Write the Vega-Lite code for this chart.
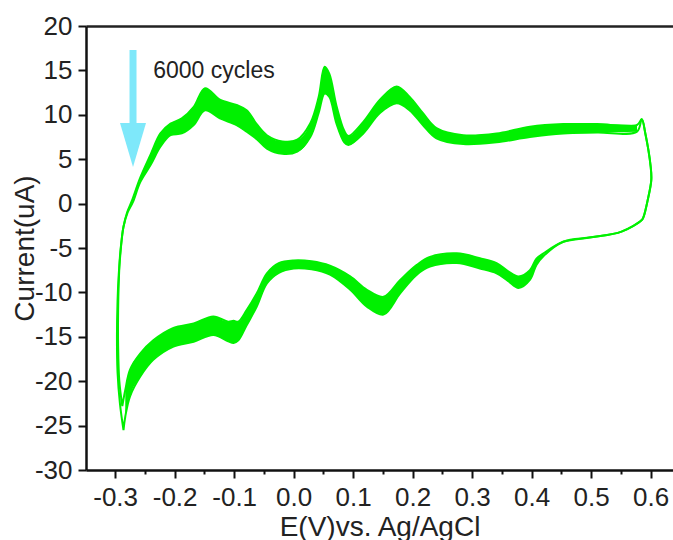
{
  "$schema": "https://vega.github.io/schema/vega-lite/v6.json",
  "width": 587,
  "height": 444,
  "autosize": {"type": "none"},
  "padding": {"left": 86, "top": 26, "right": 0, "bottom": 70},
  "background": "white",
  "config": {
    "view": {"stroke": null},
    "font": "Liberation Sans"
  },
  "resolve": {"axis": {"x": "independent"}},
  "datasets": {
    "band": [
      {"b":"a","E":-0.258,"t":2.9,"u":2.4},
      {"b":"a","E":-0.240,"t":5.6,"u":4.4},
      {"b":"a","E":-0.224,"t":7.9,"u":6.4},
      {"b":"a","E":-0.207,"t":9.0,"u":7.7},
      {"b":"a","E":-0.188,"t":9.6,"u":7.9},
      {"b":"a","E":-0.168,"t":10.9,"u":8.85},
      {"b":"a","E":-0.149,"t":13.0,"u":10.5},
      {"b":"a","E":-0.124,"t":11.7,"u":9.6},
      {"b":"a","E":-0.096,"t":11.1,"u":8.85},
      {"b":"a","E":-0.079,"t":10.5,"u":8.1},
      {"b":"a","E":-0.061,"t":8.85,"u":7.2},
      {"b":"a","E":-0.045,"t":7.7,"u":6.2},
      {"b":"a","E":-0.019,"t":7.0,"u":5.6},
      {"b":"a","E":0.006,"t":7.2,"u":5.85},
      {"b":"a","E":0.028,"t":9.05,"u":7.5},
      {"b":"a","E":0.042,"t":12.0,"u":10.2},
      {"b":"a","E":0.052,"t":15.4,"u":12.4},
      {"b":"a","E":0.060,"t":14.6,"u":12.0},
      {"b":"a","E":0.072,"t":11.0,"u":9.0},
      {"b":"a","E":0.085,"t":8.2,"u":6.9},
      {"b":"a","E":0.092,"t":7.6,"u":6.6},
      {"b":"a","E":0.117,"t":9.2,"u":7.9},
      {"b":"a","E":0.145,"t":11.7,"u":10.2},
      {"b":"a","E":0.173,"t":13.2,"u":11.3},
      {"b":"a","E":0.195,"t":12.0,"u":10.5},
      {"b":"a","E":0.217,"t":10.2,"u":8.85},
      {"b":"a","E":0.240,"t":8.5,"u":7.35},
      {"b":"a","E":0.285,"t":7.7,"u":6.7},
      {"b":"a","E":0.341,"t":7.9,"u":6.9},
      {"b":"a","E":0.397,"t":8.65,"u":7.5},
      {"b":"a","E":0.453,"t":8.95,"u":7.9},
      {"b":"a","E":0.510,"t":8.95,"u":8.0},
      {"b":"a","E":0.577,"t":8.85,"u":8.1},
      {"b":"c","E":0.420,"t":-5.6,"u":-5.9},
      {"b":"c","E":0.408,"t":-6.2,"u":-6.9},
      {"b":"c","E":0.397,"t":-7.5,"u":-8.6},
      {"b":"c","E":0.378,"t":-8.2,"u":-9.5},
      {"b":"c","E":0.360,"t":-7.6,"u":-8.7},
      {"b":"c","E":0.341,"t":-6.7,"u":-7.85},
      {"b":"c","E":0.313,"t":-6.15,"u":-7.3},
      {"b":"c","E":0.274,"t":-5.6,"u":-6.7},
      {"b":"c","E":0.229,"t":-6.0,"u":-7.1},
      {"b":"c","E":0.207,"t":-6.9,"u":-8.0},
      {"b":"c","E":0.179,"t":-8.6,"u":-10.1},
      {"b":"c","E":0.151,"t":-10.5,"u":-12.5},
      {"b":"c","E":0.123,"t":-9.7,"u":-11.6},
      {"b":"c","E":0.095,"t":-8.2,"u":-9.7},
      {"b":"c","E":0.061,"t":-7.0,"u":-8.0},
      {"b":"c","E":0.030,"t":-6.5,"u":-7.4},
      {"b":"c","E":0.000,"t":-6.4,"u":-7.3},
      {"b":"c","E":-0.025,"t":-6.7,"u":-7.8},
      {"b":"c","E":-0.045,"t":-7.85,"u":-9.0},
      {"b":"c","E":-0.062,"t":-10.1,"u":-11.6},
      {"b":"c","E":-0.079,"t":-12.0,"u":-13.7},
      {"b":"c","E":-0.093,"t":-13.3,"u":-15.4},
      {"b":"c","E":-0.101,"t":-13.2,"u":-15.7},
      {"b":"c","E":-0.110,"t":-13.3,"u":-15.5},
      {"b":"c","E":-0.135,"t":-12.7,"u":-14.8},
      {"b":"c","E":-0.168,"t":-13.5,"u":-15.55},
      {"b":"c","E":-0.202,"t":-14.0,"u":-16.1},
      {"b":"c","E":-0.236,"t":-15.4,"u":-17.6},
      {"b":"c","E":-0.258,"t":-16.9,"u":-19.5},
      {"b":"c","E":-0.275,"t":-18.7,"u":-21.7},
      {"b":"c","E":-0.283,"t":-21.0,"u":-24.0}
    ],
    "loop": [
      {"c":"h","i":1,"E":-0.286,"I":-25.5},
      {"c":"h","i":2,"E":-0.292,"I":-22.5},
      {"c":"h","i":3,"E":-0.296,"I":-19},
      {"c":"h","i":4,"E":-0.297,"I":-15},
      {"c":"h","i":5,"E":-0.296,"I":-11},
      {"c":"h","i":6,"E":-0.294,"I":-8},
      {"c":"h","i":7,"E":-0.291,"I":-5.5},
      {"c":"h","i":8,"E":-0.288,"I":-3.5},
      {"c":"h","i":9,"E":-0.286,"I":-2.6},
      {"c":"h","i":10,"E":-0.280,"I":-1.0},
      {"c":"h","i":11,"E":-0.272,"I":0.3},
      {"c":"h","i":12,"E":-0.258,"I":2.9},
      {"c":"h","i":13,"E":-0.240,"I":5.6},
      {"c":"h","i":14,"E":-0.224,"I":7.9},
      {"c":"h","i":15,"E":-0.207,"I":9.0},
      {"c":"h","i":16,"E":-0.188,"I":9.6},
      {"c":"h","i":17,"E":-0.168,"I":10.9},
      {"c":"h","i":18,"E":-0.149,"I":13.0},
      {"c":"h","i":19,"E":-0.124,"I":11.7},
      {"c":"h","i":20,"E":-0.096,"I":11.1},
      {"c":"h","i":21,"E":-0.079,"I":10.5},
      {"c":"h","i":22,"E":-0.061,"I":8.85},
      {"c":"h","i":23,"E":-0.045,"I":7.7},
      {"c":"h","i":24,"E":-0.019,"I":7.0},
      {"c":"h","i":25,"E":0.006,"I":7.2},
      {"c":"h","i":26,"E":0.028,"I":9.05},
      {"c":"h","i":27,"E":0.042,"I":12.0},
      {"c":"h","i":28,"E":0.052,"I":15.4},
      {"c":"h","i":29,"E":0.060,"I":14.6},
      {"c":"h","i":30,"E":0.072,"I":11.0},
      {"c":"h","i":31,"E":0.085,"I":8.2},
      {"c":"h","i":32,"E":0.092,"I":7.6},
      {"c":"h","i":33,"E":0.117,"I":9.2},
      {"c":"h","i":34,"E":0.145,"I":11.7},
      {"c":"h","i":35,"E":0.173,"I":13.2},
      {"c":"h","i":36,"E":0.195,"I":12.0},
      {"c":"h","i":37,"E":0.217,"I":10.2},
      {"c":"h","i":38,"E":0.240,"I":8.5},
      {"c":"h","i":39,"E":0.285,"I":7.7},
      {"c":"h","i":40,"E":0.341,"I":7.9},
      {"c":"h","i":41,"E":0.397,"I":8.65},
      {"c":"h","i":42,"E":0.453,"I":8.95},
      {"c":"h","i":43,"E":0.510,"I":8.95},
      {"c":"h","i":44,"E":0.577,"I":8.85},
      {"c":"h","i":45,"E":0.585,"I":9.5},
      {"c":"h","i":46,"E":0.591,"I":7.9},
      {"c":"h","i":47,"E":0.600,"I":4.15},
      {"c":"h","i":48,"E":0.601,"I":2.65},
      {"c":"h","i":49,"E":0.595,"I":0.4},
      {"c":"h","i":50,"E":0.588,"I":-1.5},
      {"c":"h","i":51,"E":0.585,"I":-1.85},
      {"c":"h","i":52,"E":0.551,"I":-3.15},
      {"c":"h","i":53,"E":0.500,"I":-3.8},
      {"c":"h","i":54,"E":0.453,"I":-4.3},
      {"c":"h","i":55,"E":0.420,"I":-5.9},
      {"c":"h","i":56,"E":0.408,"I":-6.9},
      {"c":"h","i":57,"E":0.397,"I":-8.6},
      {"c":"h","i":58,"E":0.378,"I":-9.5},
      {"c":"h","i":59,"E":0.360,"I":-8.7},
      {"c":"h","i":60,"E":0.341,"I":-7.85},
      {"c":"h","i":61,"E":0.313,"I":-7.3},
      {"c":"h","i":62,"E":0.274,"I":-6.7},
      {"c":"h","i":63,"E":0.229,"I":-7.1},
      {"c":"h","i":64,"E":0.207,"I":-8.0},
      {"c":"h","i":65,"E":0.179,"I":-10.1},
      {"c":"h","i":66,"E":0.151,"I":-12.5},
      {"c":"h","i":67,"E":0.123,"I":-11.6},
      {"c":"h","i":68,"E":0.095,"I":-9.7},
      {"c":"h","i":69,"E":0.061,"I":-8.0},
      {"c":"h","i":70,"E":0.030,"I":-7.4},
      {"c":"h","i":71,"E":0.000,"I":-7.3},
      {"c":"h","i":72,"E":-0.025,"I":-7.8},
      {"c":"h","i":73,"E":-0.045,"I":-9.0},
      {"c":"h","i":74,"E":-0.062,"I":-11.6},
      {"c":"h","i":75,"E":-0.079,"I":-13.7},
      {"c":"h","i":76,"E":-0.093,"I":-15.4},
      {"c":"h","i":77,"E":-0.101,"I":-15.7},
      {"c":"h","i":78,"E":-0.110,"I":-15.5},
      {"c":"h","i":79,"E":-0.135,"I":-14.8},
      {"c":"h","i":80,"E":-0.168,"I":-15.55},
      {"c":"h","i":81,"E":-0.202,"I":-16.1},
      {"c":"h","i":82,"E":-0.236,"I":-17.6},
      {"c":"h","i":83,"E":-0.258,"I":-19.5},
      {"c":"h","i":84,"E":-0.275,"I":-21.7},
      {"c":"h","i":85,"E":-0.283,"I":-24.0},
      {"c":"h","i":86,"E":-0.286,"I":-25.5},
      {"c":"l","i":1,"E":-0.288,"I":-22.8},
      {"c":"l","i":2,"E":-0.293,"I":-20},
      {"c":"l","i":3,"E":-0.295,"I":-16},
      {"c":"l","i":4,"E":-0.295,"I":-12},
      {"c":"l","i":5,"E":-0.294,"I":-9},
      {"c":"l","i":6,"E":-0.292,"I":-6},
      {"c":"l","i":7,"E":-0.289,"I":-4},
      {"c":"l","i":8,"E":-0.286,"I":-2.6},
      {"c":"l","i":9,"E":-0.279,"I":-1.0},
      {"c":"l","i":10,"E":-0.270,"I":0.2},
      {"c":"l","i":11,"E":-0.258,"I":2.4},
      {"c":"l","i":12,"E":-0.240,"I":4.4},
      {"c":"l","i":13,"E":-0.224,"I":6.4},
      {"c":"l","i":14,"E":-0.207,"I":7.7},
      {"c":"l","i":15,"E":-0.188,"I":7.9},
      {"c":"l","i":16,"E":-0.168,"I":8.85},
      {"c":"l","i":17,"E":-0.149,"I":10.5},
      {"c":"l","i":18,"E":-0.124,"I":9.6},
      {"c":"l","i":19,"E":-0.096,"I":8.85},
      {"c":"l","i":20,"E":-0.079,"I":8.1},
      {"c":"l","i":21,"E":-0.061,"I":7.2},
      {"c":"l","i":22,"E":-0.045,"I":6.2},
      {"c":"l","i":23,"E":-0.019,"I":5.6},
      {"c":"l","i":24,"E":0.006,"I":5.85},
      {"c":"l","i":25,"E":0.028,"I":7.5},
      {"c":"l","i":26,"E":0.042,"I":10.2},
      {"c":"l","i":27,"E":0.052,"I":12.4},
      {"c":"l","i":28,"E":0.060,"I":12.0},
      {"c":"l","i":29,"E":0.072,"I":9.0},
      {"c":"l","i":30,"E":0.085,"I":6.9},
      {"c":"l","i":31,"E":0.092,"I":6.6},
      {"c":"l","i":32,"E":0.117,"I":7.9},
      {"c":"l","i":33,"E":0.145,"I":10.2},
      {"c":"l","i":34,"E":0.173,"I":11.3},
      {"c":"l","i":35,"E":0.195,"I":10.5},
      {"c":"l","i":36,"E":0.217,"I":8.85},
      {"c":"l","i":37,"E":0.240,"I":7.35},
      {"c":"l","i":38,"E":0.285,"I":6.7},
      {"c":"l","i":39,"E":0.341,"I":6.9},
      {"c":"l","i":40,"E":0.397,"I":7.5},
      {"c":"l","i":41,"E":0.453,"I":7.9},
      {"c":"l","i":42,"E":0.510,"I":8.0},
      {"c":"l","i":43,"E":0.577,"I":8.1},
      {"c":"l","i":44,"E":0.585,"I":9.5},
      {"c":"l","i":45,"E":0.591,"I":7.9},
      {"c":"l","i":46,"E":0.600,"I":4.15},
      {"c":"l","i":47,"E":0.601,"I":2.65},
      {"c":"l","i":48,"E":0.595,"I":0.4},
      {"c":"l","i":49,"E":0.588,"I":-1.5},
      {"c":"l","i":50,"E":0.585,"I":-1.85},
      {"c":"l","i":51,"E":0.551,"I":-3.15},
      {"c":"l","i":52,"E":0.500,"I":-3.8},
      {"c":"l","i":53,"E":0.453,"I":-4.3},
      {"c":"l","i":54,"E":0.420,"I":-5.6},
      {"c":"l","i":55,"E":0.408,"I":-6.2},
      {"c":"l","i":56,"E":0.397,"I":-7.5},
      {"c":"l","i":57,"E":0.378,"I":-8.2},
      {"c":"l","i":58,"E":0.360,"I":-7.6},
      {"c":"l","i":59,"E":0.341,"I":-6.7},
      {"c":"l","i":60,"E":0.313,"I":-6.15},
      {"c":"l","i":61,"E":0.274,"I":-5.6},
      {"c":"l","i":62,"E":0.229,"I":-6.0},
      {"c":"l","i":63,"E":0.207,"I":-6.9},
      {"c":"l","i":64,"E":0.179,"I":-8.6},
      {"c":"l","i":65,"E":0.151,"I":-10.5},
      {"c":"l","i":66,"E":0.123,"I":-9.7},
      {"c":"l","i":67,"E":0.095,"I":-8.2},
      {"c":"l","i":68,"E":0.061,"I":-7.0},
      {"c":"l","i":69,"E":0.030,"I":-6.5},
      {"c":"l","i":70,"E":0.000,"I":-6.4},
      {"c":"l","i":71,"E":-0.025,"I":-6.7},
      {"c":"l","i":72,"E":-0.045,"I":-7.85},
      {"c":"l","i":73,"E":-0.062,"I":-10.1},
      {"c":"l","i":74,"E":-0.079,"I":-12.0},
      {"c":"l","i":75,"E":-0.093,"I":-13.3},
      {"c":"l","i":76,"E":-0.101,"I":-13.2},
      {"c":"l","i":77,"E":-0.110,"I":-13.3},
      {"c":"l","i":78,"E":-0.135,"I":-12.7},
      {"c":"l","i":79,"E":-0.168,"I":-13.5},
      {"c":"l","i":80,"E":-0.202,"I":-14.0},
      {"c":"l","i":81,"E":-0.236,"I":-15.4},
      {"c":"l","i":82,"E":-0.258,"I":-16.9},
      {"c":"l","i":83,"E":-0.275,"I":-18.7},
      {"c":"l","i":84,"E":-0.283,"I":-21.0},
      {"c":"l","i":85,"E":-0.288,"I":-22.8}
    ],
    "arrow": [
      {"E":-0.270,"top":17.3,"bot":8.0}
    ],
    "head": [
      {"E":-0.270,"I":6.6}
    ],
    "note": [
      {"E":-0.236,"I":14.9,"label":"6000 cycles"}
    ]
  },
  "layer": [
    {
      "data": {"name": "band"},
      "mark": {"type": "area", "color": "#00f000", "interpolate": "monotone", "opacity": 1},
      "encoding": {
        "x": {
          "field": "E", "type": "quantitative",
          "scale": {"domain": [-0.349, 0.6375], "nice": false, "zero": false},
          "axis": {
            "orient": "bottom",
            "title": "E(V)vs. Ag/AgCl",
            "values": [-0.3,-0.25,-0.2,-0.15,-0.1,-0.05,0,0.05,0.1,0.15,0.2,0.25,0.3,0.35,0.4,0.45,0.5,0.55,0.6],
            "labelExpr": "abs(datum.value*10 - round(datum.value*10)) < 0.001 ? (datum.value < -0.001 ? '-' : '') + format(abs(datum.value), '.1f') : ''",
            "tickSize": {"condition": {"test": "abs(datum.value*10 - round(datum.value*10)) > 0.001", "value": 4}, "value": 8},
            "tickWidth": 2, "tickColor": "#111",
            "domainColor": "#111", "domainWidth": 2.5,
            "labelFont": "Liberation Sans", "labelFontSize": 26, "labelColor": "#222",
            "labelPadding": 6, "labelOverlap": false, "labelFlush": false, "labelBound": false,
            "titleFont": "Liberation Sans", "titleFontSize": 28, "titleFontWeight": "normal", "titleColor": "#222",
            "titlePadding": 3, "grid": false
          }
        },
        "y": {
          "field": "t", "type": "quantitative",
          "scale": {"domain": [-30, 20], "nice": false, "zero": false},
          "axis": {
            "title": "Current(uA)",
            "values": [-30,-27.5,-25,-22.5,-20,-17.5,-15,-12.5,-10,-7.5,-5,-2.5,0,2.5,5,7.5,10,12.5,15,17.5,20],
            "labelExpr": "abs(datum.value/5 - round(datum.value/5)) < 0.001 ? (datum.value < 0 ? '-' : '') + format(abs(datum.value), 'd') : ''",
            "tickSize": {"condition": {"test": "abs(datum.value/5 - round(datum.value/5)) > 0.001", "value": 4}, "value": 8},
            "tickWidth": 2, "tickColor": "#111",
            "domainColor": "#111", "domainWidth": 2.5,
            "labelFont": "Liberation Sans", "labelFontSize": 26, "labelColor": "#222",
            "labelPadding": 6, "labelOverlap": false, "labelFlush": false, "labelBound": false,
            "titleFont": "Liberation Sans", "titleFontSize": 28, "titleFontWeight": "normal", "titleColor": "#222",
            "titlePadding": -5, "grid": false
          }
        },
        "y2": {"field": "u"},
        "detail": {"field": "b", "type": "nominal"}
      }
    },
    {
      "data": {"name": "loop"},
      "mark": {"type": "line", "color": "#00f000", "strokeWidth": 2, "interpolate": "catmull-rom"},
      "encoding": {
        "x": {"field": "E", "type": "quantitative",
          "axis": {"orient": "top", "ticks": false, "labels": false, "title": null, "grid": false, "domainColor": "#222", "domainWidth": 2.5}},
        "y": {"field": "I", "type": "quantitative"},
        "order": {"field": "i", "type": "quantitative"},
        "detail": {"field": "c", "type": "nominal"}
      }
    },
    {
      "data": {"name": "arrow"},
      "mark": {"type": "rule", "color": "#7ee8fa", "strokeWidth": 7},
      "encoding": {
        "x": {"field": "E", "type": "quantitative", "axis": null},
        "y": {"field": "top", "type": "quantitative"},
        "y2": {"field": "bot"}
      }
    },
    {
      "data": {"name": "head"},
      "mark": {"type": "point", "shape": "M-1,-1.7L1,-1.7L0,1.7Z", "size": 676, "filled": true, "color": "#7ee8fa", "opacity": 1, "strokeWidth": 0},
      "encoding": {
        "x": {"field": "E", "type": "quantitative", "axis": null},
        "y": {"field": "I", "type": "quantitative"}
      }
    },
    {
      "data": {"name": "note"},
      "mark": {"type": "text", "align": "left", "baseline": "middle", "font": "Liberation Sans", "fontSize": 23, "color": "#222"},
      "encoding": {
        "x": {"field": "E", "type": "quantitative", "axis": null},
        "y": {"field": "I", "type": "quantitative"},
        "text": {"field": "label"}
      }
    }
  ]
}
